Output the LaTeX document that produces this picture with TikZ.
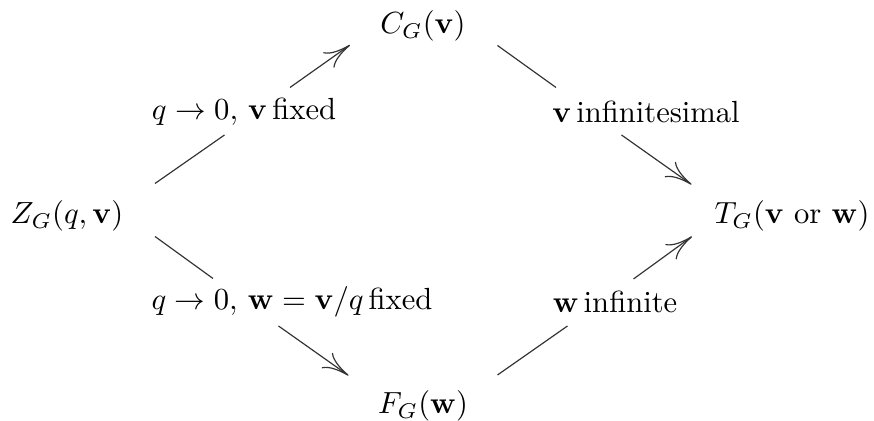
\documentclass[tikz,border=0pt]{standalone}
\usepackage{amsmath}
\usetikzlibrary{arrows.meta}
\begin{document}
\begin{tikzpicture}[x=0.34pt,y=-0.34pt,
  obj/.style={inner sep=0pt,scale=1.04,transform shape},
  lbl/.style={inner sep=0pt,scale=1.04,transform shape},
  seg/.style={draw=black!80,line width=0.4pt},
  arr/.style={seg,-{To[length=9pt,width=6.4pt]}}]
\useasboundingbox (0,0) rectangle (874,421);
% objects
\node[obj] (Z) at (67,216) {$Z_G(q,\mathbf{v})$};
\node[obj] (C) at (423,26) {$C_G(\mathbf{v})$};
\node[obj] (F) at (423,406) {$F_G(\mathbf{w})$};
\node[obj] (T) at (792,216) {$T_G(\mathbf{v}\text{ or }\mathbf{w})$};
% labels
\node[lbl] (l1) at (244,112) {$q\to 0,\,\mathbf{v}\,\text{fixed}$};
\node[lbl] (l2) at (646,112) {$\mathbf{v}\,\text{infinitesimal}$};
\node[lbl] (l3) at (292,302) {$q\to 0,\,\mathbf{w}=\mathbf{v}/q\,\text{fixed}$};
\node[lbl] (l4) at (615,302) {$\mathbf{w}\,\text{infinite}$};
% connector end points
\coordinate (zc0) at (155,183.5);
\coordinate (zc1) at (224.5,135);
\coordinate (zc2) at (290,87.5);
\coordinate (zc3) at (350,45);
\coordinate (ct0) at (497.5,45.5);
\coordinate (ct1) at (556,87.5);
\coordinate (ct2) at (621.5,135);
\coordinate (ct3) at (691.5,184.5);
\coordinate (zf0) at (155,236.5);
\coordinate (zf1) at (213,278.5);
\coordinate (zf2) at (278.5,326);
\coordinate (zf3) at (348.5,375.5);
\coordinate (ft0) at (497.5,375);
\coordinate (ft1) at (567.5,326);
\coordinate (ft2) at (633.5,279);
\coordinate (ft3) at (692,236.5);
% connectors
\draw[seg] (zc0) -- (zc1);
\draw[arr] (zc2) -- (zc3);
\draw[seg] (ct0) -- (ct1);
\draw[arr] (ct2) -- (ct3);
\draw[seg] (zf0) -- (zf1);
\draw[arr] (zf2) -- (zf3);
\draw[seg] (ft0) -- (ft1);
\draw[arr] (ft2) -- (ft3);
\end{tikzpicture}
\end{document}
